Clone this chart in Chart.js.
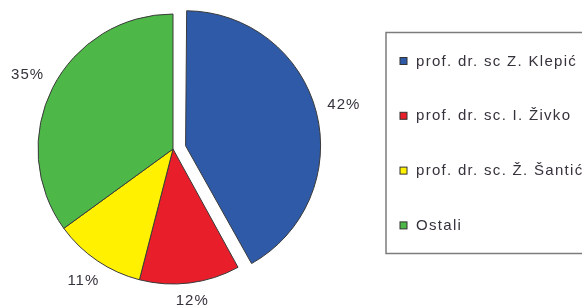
<!DOCTYPE html>
<html><head><meta charset="utf-8">
<script src="https://cdn.jsdelivr.net/npm/chart.js@4/dist/chart.umd.min.js"></script>
<style>html,body{margin:0;padding:0;background:#fff;overflow:hidden}#wrap{width:582px;height:308px;position:relative}</style>
</head><body><div id="wrap"><canvas id="c" width="582" height="308"></canvas></div>
<script>
const categories = ['prof. dr. sc Z. Klepić', 'prof. dr. sc. I. Živko', 'prof. dr. sc. Ž. Šantić', 'Ostali'];
const shares = [42, 12, 11, 35];
const sliceColors = ['#2f5aa8', '#e81f2a', '#fff100', '#4db848'];

const textFont = '15px "Liberation Sans", Arial, sans-serif';
const textColor = '#36323c';

// keep the exploded slice at the same radius as the others
const keepRadius = {
  id: 'keepRadius',
  beforeDatasetsDraw(chart) {
    const meta = chart.getDatasetMeta(0);
    const ds = chart.data.datasets[0];
    const R = meta.controller.outerRadius;
    meta.data.forEach((arc, i) => {
      const off = (Array.isArray(ds.offset) ? ds.offset[i] : 0) / 4;
      const fix = 1 - Math.sin(Math.min(Math.PI, arc.circumference || 0));
      arc.outerRadius = R - off * fix;
    });
  }
};

const pctLabels = {
  id: 'pctLabels',
  afterDatasetsDraw(chart) {
    const ctx = chart.ctx;
    const meta = chart.getDatasetMeta(0);
    const ds = chart.data.datasets[0];
    const R = meta.controller.outerRadius;
    ctx.save();
    ctx.font = textFont;
    ctx.letterSpacing = '1px';
    ctx.fillStyle = textColor;
    ctx.textAlign = 'center';
    ctx.textBaseline = 'middle';
    meta.data.forEach((arc, i) => {
      const p = arc.getProps(['x', 'y', 'startAngle', 'endAngle'], true);
      const mid = (p.startAngle + p.endAngle) / 2;
      const off = (Array.isArray(ds.offset) ? ds.offset[i] : 0) / 4;
      const txt = ds.data[i] + '%';
      const w = ctx.measureText(txt).width;
      const h = 11;
      const d = R + off + 11 + (w / 2) * Math.abs(Math.cos(mid)) + (h / 2) * Math.abs(Math.sin(mid));
      ctx.fillText(txt, p.x + Math.cos(mid) * d, p.y + Math.sin(mid) * d);
    });
    ctx.restore();
  }
};

const boxLegend = {
  id: 'boxLegend',
  afterDraw(chart) {
    const ctx = chart.ctx;
    const ds = chart.data.datasets[0];
    ctx.save();
    ctx.strokeStyle = '#7c7c7c';
    ctx.lineWidth = 1.5;
    ctx.strokeRect(386, 32.5, 260, 221);
    ctx.font = textFont;
    ctx.letterSpacing = '1.3px';
    ctx.textAlign = 'left';
    ctx.textBaseline = 'middle';
    chart.data.labels.forEach((lab, i) => {
      const cy = 61 + i * 54.8;
      ctx.fillStyle = ds.backgroundColor[i];
      ctx.fillRect(400, cy - 3.5, 7, 7);
      ctx.strokeStyle = '#333';
      ctx.lineWidth = 1;
      ctx.strokeRect(400, cy - 3.5, 7, 7);
      ctx.fillStyle = textColor;
      ctx.fillText(lab, 416, cy + 0.5);
    });
    ctx.restore();
  }
};

new Chart(document.getElementById('c'), {
  type: 'pie',
  data: {
    labels: categories,
    datasets: [{
      data: shares,
      backgroundColor: sliceColors,
      borderColor: '#3a3a3a',
      borderWidth: 1,
      offset: [52, 0, 0, 0],
      radius: 135
    }]
  },
  options: {
    responsive: false,
    animation: false,
    devicePixelRatio: 1,
    layout: { padding: { left: 31, top: 7, right: 267, bottom: 17 } },
    plugins: { legend: { display: false }, tooltip: { enabled: false } }
  },
  plugins: [keepRadius, pctLabels, boxLegend]
});
</script>
</body></html>
